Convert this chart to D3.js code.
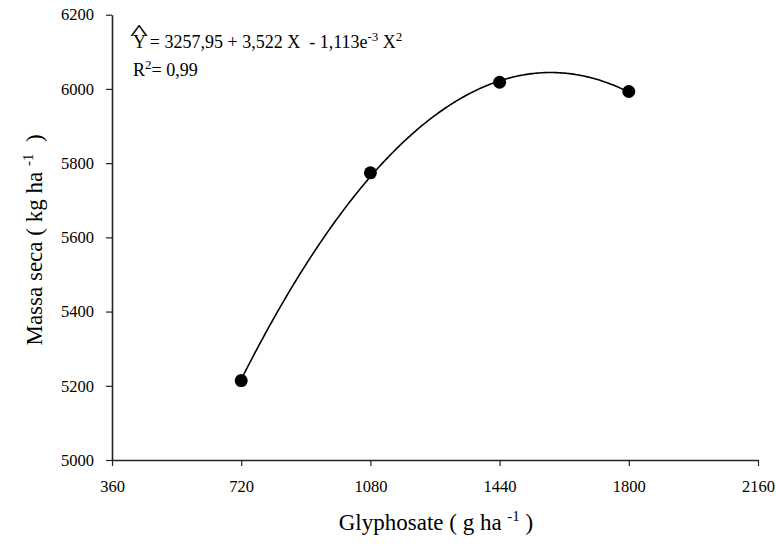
<!DOCTYPE html>
<html>
<head>
<meta charset="utf-8">
<script src="https://cdn.jsdelivr.net/npm/d3@7"></script>
<style>
  body { margin: 0; background: #fff; }
  svg { display: block; }
  text { font-family: "Liberation Serif", "Times New Roman", serif; fill: #000; white-space: pre; }
</style>
</head>
<body>
<svg id="chart" width="776" height="546"></svg>
<script>
// ---- data ----
const doses = [720, 1080, 1440, 1800];
const massaSeca = [5214, 5774, 6018, 5993];
const xTicks = [360, 720, 1080, 1440, 1800, 2160];
const yTicks = [5000, 5200, 5400, 5600, 5800, 6000, 6200];
const fitCoefs = [3257.95, 3.522, -1.113e-3]; // Y = a + bX + cX^2 (regression shown)
const fitRange = [720, 1800];

const svg = d3.select("#chart");
const x = d3.scaleLinear().domain([360, 2160]).range([112, 758]);
const y = d3.scaleLinear().domain([5000, 6200]).range([460, 14.7]);

// axes
const xAxis = d3.axisBottom(x).tickValues(xTicks).tickFormat(d3.format("d")).tickSize(6).tickSizeOuter(0).tickPadding(14);
const yAxis = d3.axisLeft(y).tickValues(yTicks).tickFormat(d3.format("d")).tickSize(6).tickSizeOuter(0).tickPadding(12);

const gx = svg.append("g").attr("transform", `translate(0,${y(5000)})`).call(xAxis);
const gy = svg.append("g").attr("transform", `translate(${x(360)},0)`).call(yAxis);
[gx, gy].forEach(g => {
  g.select(".domain").attr("stroke", "#222").attr("stroke-width", 1.6);
  g.selectAll(".tick line").attr("stroke", "#222").attr("stroke-width", 1.2);
  g.selectAll(".tick text").style("font-family", "Liberation Serif, serif").style("font-size", "16.5px").attr("fill", "#000");
});

// fitted curve
const fitX = d3.range(fitRange[0], fitRange[1] + 1, 5);
const fitPts = fitX.map(v => [v, fitCoefs[0] + fitCoefs[1] * v + fitCoefs[2] * v * v]);
svg.append("path")
  .datum(fitPts)
  .attr("fill", "none")
  .attr("stroke", "#000")
  .attr("stroke-width", 1.6)
  .attr("d", d3.line().x(d => x(d[0])).y(d => y(d[1])).curve(d3.curveBasis));

// points
svg.selectAll("circle.pt")
  .data(doses.map((d, i) => [d, massaSeca[i]]))
  .enter().append("circle")
  .attr("class", "pt")
  .attr("cx", d => x(d[0]))
  .attr("cy", d => y(d[1]))
  .attr("r", 6.5)
  .attr("fill", "#000");

// equation
svg.append("text")
  .attr("transform", "translate(139,39.5) scale(1.6,1)")
  .attr("text-anchor", "middle")
  .style("font-size", "24px")
  .text("^");
const eq = svg.append("text").attr("x", 133).attr("y", 48).style("font-size", "18px");
eq.append("tspan").text("Y = 3257,95 + 3,522 X  - 1,113e");
eq.append("tspan").attr("dy", -7).style("font-size", "13px").text("-3");
eq.append("tspan").attr("dy", 7).text(" X");
eq.append("tspan").attr("dy", -7).style("font-size", "13px").text("2");

const r2 = svg.append("text").attr("x", 133).attr("y", 76).style("font-size", "18px");
r2.append("tspan").text("R");
r2.append("tspan").attr("dy", -7).style("font-size", "13px").text("2");
r2.append("tspan").attr("dy", 7).text("= 0,99");

// x title
const xt = svg.append("text").attr("x", 436).attr("y", 530).attr("text-anchor", "middle").style("font-size", "23px");
xt.append("tspan").text("Glyphosate ( g ha ");
xt.append("tspan").attr("dy", -9).style("font-size", "15px").text("-1");
xt.append("tspan").attr("dy", 9).text(" )");

// y title
const yt = svg.append("text").attr("transform", "translate(42,240) rotate(-90)").attr("text-anchor", "middle").style("font-size", "23px");
yt.append("tspan").text("Massa seca ( kg ha ");
yt.append("tspan").attr("dy", -9).style("font-size", "15px").text("-1");
yt.append("tspan").attr("dy", 9).text("  )");
</script>
</body>
</html>
